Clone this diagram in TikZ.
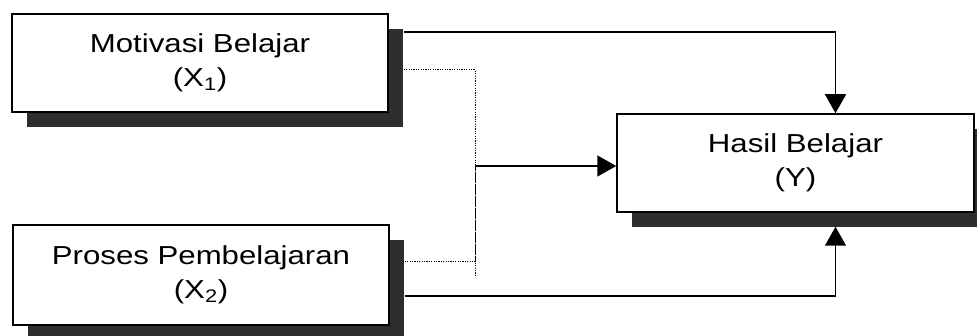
\documentclass[tikz,border=0pt]{standalone}
\usepackage{fontspec}
\setmainfont{Liberation Sans}
\usepackage{graphicx}
\usetikzlibrary{arrows.meta,shadows,calc}
\newcommand\strtxt[1]{\scalebox{1.2}[1]{#1}}
\tikzset{
  varbox/.style={draw=black, line width=1.5pt, fill=white, inner sep=0pt,
    align=center, font=\fontsize{26}{34}\selectfont,
    drop shadow={shadow xshift=15pt, shadow yshift=-15pt, fill=black!82, opacity=1, draw=none}},
  conn/.style={line width=1.5pt, -{Triangle[length=19pt,width=21pt]}},
  dotline/.style={line width=1pt, dash pattern=on 1.2pt off 1.2pt},
}
\begin{document}
\begin{tikzpicture}[x=1pt,y=-1pt]
\useasboundingbox (0,0) rectangle (977,336);
\node[varbox, minimum width=376pt, minimum height=98pt] (m) at (200,63)
  {\strtxt{Motivasi Belajar}\\\strtxt{(X\textsubscript{1})}};
\node[varbox, minimum width=376pt, minimum height=100pt] (p) at (201,275)
  {\strtxt{Proses Pembelajaran}\\\strtxt{(X\textsubscript{2})}};
\node[varbox, minimum width=357pt, minimum height=98pt] (y) at (795.5,163)
  {\strtxt{Hasil Belajar}\\\strtxt{(Y)}};
% top connector
\draw[conn] ([xshift=15pt,yshift=-19pt]m.north east) -| ([xshift=40pt]y.north);
% bottom connector
\draw[conn] ([xshift=15pt,yshift=-21pt]p.east) -| ([xshift=40pt,yshift=-14pt]y.south);
% dotted interaction bracket
\coordinate (j) at (475,166);
\draw[dotline] ([xshift=15pt,yshift=-7pt]m.east) -| (j |- p.east);
\draw[dotline] ([xshift=15pt,yshift=13pt]p.east) -| (j);
\draw[conn] (j) -- (j -| y.west);
\end{tikzpicture}
\end{document}
